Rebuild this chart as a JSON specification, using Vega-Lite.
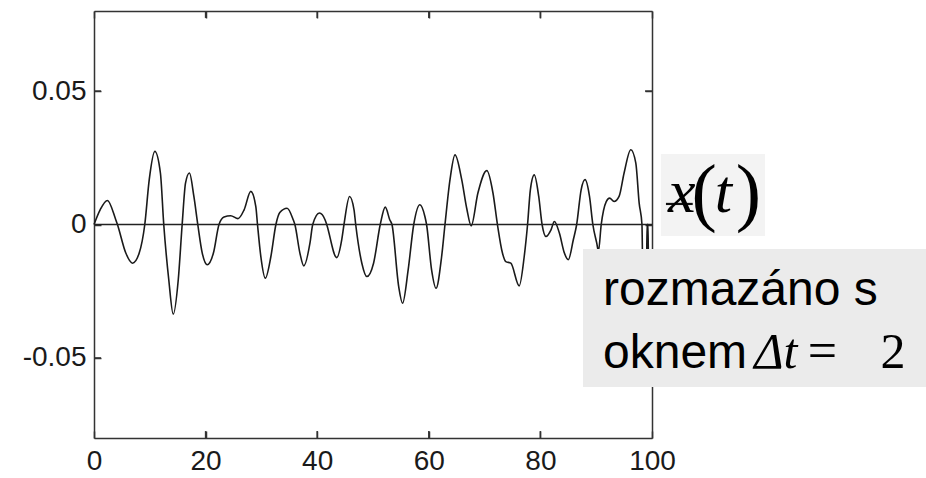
{
  "$schema": "https://vega.github.io/schema/vega-lite/v6.json",
  "width": 558,
  "height": 427,
  "autosize": {"type": "none"},
  "padding": {"left": 94, "top": 11, "right": 274, "bottom": 40},
  "background": "white",
  "config": {
    "view": {"stroke": null},
    "axis": {
      "grid": false,
      "title": null,
      "domainColor": "#333",
      "domainWidth": 1.5,
      "tickColor": "#333",
      "tickWidth": 1.5,
      "tickSize": -7,
      "labelFont": "Liberation Sans",
      "labelFontSize": 28,
      "labelColor": "#1a1a1a",
      "zindex": 0
    }
  },
  "datasets": {
    "signal": [
      {"t": 0, "v": 0}, {"t": 1.1, "v": 0.0055}, {"t": 2.4, "v": 0.009}, {"t": 3.9, "v": 0.0018}, {"t": 4.2, "v": 0},
      {"t": 5.7, "v": -0.0107}, {"t": 6.9, "v": -0.0145}, {"t": 8.1, "v": -0.0107}, {"t": 9.1, "v": 0},
      {"t": 9.9, "v": 0.0168}, {"t": 10.9, "v": 0.0274}, {"t": 11.9, "v": 0.0193}, {"t": 12.5, "v": 0},
      {"t": 13.4, "v": -0.0207}, {"t": 14.2, "v": -0.0336}, {"t": 15.1, "v": -0.0207}, {"t": 15.8, "v": 0},
      {"t": 16.4, "v": 0.0155}, {"t": 17.1, "v": 0.0193}, {"t": 17.9, "v": 0.0105}, {"t": 18.6, "v": 0},
      {"t": 19.4, "v": -0.0107}, {"t": 20.3, "v": -0.0151}, {"t": 21.4, "v": -0.0107}, {"t": 22.4, "v": 0},
      {"t": 23.3, "v": 0.0028}, {"t": 24.5, "v": 0.0033}, {"t": 25.8, "v": 0.0022}, {"t": 26.9, "v": 0.0055},
      {"t": 28.1, "v": 0.0124}, {"t": 29.0, "v": 0.0067}, {"t": 29.3, "v": 0}, {"t": 29.9, "v": -0.012},
      {"t": 30.7, "v": -0.0201}, {"t": 31.7, "v": -0.012}, {"t": 32.6, "v": 0}, {"t": 33.3, "v": 0.0045},
      {"t": 34.6, "v": 0.0061}, {"t": 35.7, "v": 0.0018}, {"t": 36.0, "v": 0}, {"t": 36.9, "v": -0.0107},
      {"t": 37.6, "v": -0.0155}, {"t": 38.7, "v": -0.007}, {"t": 39.2, "v": 0}, {"t": 40.4, "v": 0.0043},
      {"t": 41.4, "v": 0.0018}, {"t": 41.7, "v": 0}, {"t": 43.5, "v": -0.0124}, {"t": 44.4, "v": -0.0057},
      {"t": 44.8, "v": 0}, {"t": 45.8, "v": 0.0105}, {"t": 46.6, "v": 0.0055}, {"t": 46.9, "v": 0},
      {"t": 48.0, "v": -0.0145}, {"t": 48.9, "v": -0.0195}, {"t": 50.1, "v": -0.0145}, {"t": 51.3, "v": 0},
      {"t": 52.2, "v": 0.0065}, {"t": 53.0, "v": 0.0018}, {"t": 53.4, "v": 0}, {"t": 54.6, "v": -0.0232},
      {"t": 55.3, "v": -0.0295}, {"t": 56.3, "v": -0.017}, {"t": 57.3, "v": 0}, {"t": 58.4, "v": 0.0074},
      {"t": 59.3, "v": 0.003}, {"t": 59.6, "v": 0}, {"t": 60.5, "v": -0.017}, {"t": 61.3, "v": -0.0239},
      {"t": 62.3, "v": -0.012}, {"t": 62.9, "v": 0}, {"t": 63.8, "v": 0.0168}, {"t": 64.7, "v": 0.0261},
      {"t": 65.9, "v": 0.0168}, {"t": 66.8, "v": 0.006}, {"t": 67.6, "v": -0.0005}, {"t": 68.8, "v": 0.0118},
      {"t": 70.4, "v": 0.0202}, {"t": 71.5, "v": 0.0118}, {"t": 72.3, "v": 0}, {"t": 73.2, "v": -0.0107},
      {"t": 73.8, "v": -0.0139}, {"t": 74.7, "v": -0.0145}, {"t": 76.2, "v": -0.023}, {"t": 77.1, "v": -0.012},
      {"t": 77.7, "v": 0}, {"t": 78.2, "v": 0.013}, {"t": 78.9, "v": 0.0186}, {"t": 79.7, "v": 0.0105},
      {"t": 80.3, "v": 0}, {"t": 81.0, "v": -0.0045}, {"t": 81.9, "v": -0.002}, {"t": 82.5, "v": 0.0011},
      {"t": 83.4, "v": -0.0032}, {"t": 84.3, "v": -0.0107}, {"t": 85.0, "v": -0.0132}, {"t": 85.9, "v": -0.0057},
      {"t": 86.5, "v": 0}, {"t": 87.3, "v": 0.013}, {"t": 88.0, "v": 0.0168}, {"t": 88.8, "v": 0.0105},
      {"t": 89.4, "v": 0}, {"t": 90.1, "v": -0.007}, {"t": 90.4, "v": -0.01}, {"t": 90.9, "v": 0},
      {"t": 91.8, "v": 0.0086}, {"t": 92.4, "v": 0.0099}, {"t": 93.2, "v": 0.0086}, {"t": 94.1, "v": 0.0105},
      {"t": 95.0, "v": 0.0193}, {"t": 96.2, "v": 0.028}, {"t": 97.1, "v": 0.023}, {"t": 97.7, "v": 0.008},
      {"t": 98.2, "v": 0}, {"t": 98.4, "v": -0.025}, {"t": 99.0, "v": -0.025}, {"t": 99.1, "v": 0},
      {"t": 99.3, "v": 0}, {"t": 99.4, "v": -0.025}, {"t": 100, "v": -0.025}
    ],
    "ticks": [
      {"x1": 20, "x2": 20, "y1": 0.08, "y2": 0.0774}, {"x1": 40, "x2": 40, "y1": 0.08, "y2": 0.0774},
      {"x1": 60, "x2": 60, "y1": 0.08, "y2": 0.0774}, {"x1": 80, "x2": 80, "y1": 0.08, "y2": 0.0774},
      {"x1": 20, "x2": 20, "y1": -0.08, "y2": -0.0774}, {"x1": 40, "x2": 40, "y1": -0.08, "y2": -0.0774},
      {"x1": 60, "x2": 60, "y1": -0.08, "y2": -0.0774}, {"x1": 80, "x2": 80, "y1": -0.08, "y2": -0.0774},
      {"x1": 0, "x2": 1.25, "y1": 0.05, "y2": 0.05}, {"x1": 0, "x2": 1.25, "y1": -0.05, "y2": -0.05},
      {"x1": 98.75, "x2": 100, "y1": 0.05, "y2": 0.05}, {"x1": 98.75, "x2": 100, "y1": -0.05, "y2": -0.05}
    ],
    "boxes": [
      {"x1": 101.6, "x2": 120.25, "y1": 0.0264, "y2": -0.0043, "c": "a"},
      {"x1": 87.63, "x2": 149.1, "y1": -0.00918, "y2": -0.0609, "c": "b"}
    ],
    "sans": [
      {"x": 91.22, "y": -0.03016, "label": "rozmazáno s"},
      {"x": 91.22, "y": -0.05377, "label": "oknem"}
    ],
    "serifItalic": [
      {"x": 105.32, "y": 0.00468, "label": "x", "s": 62},
      {"x": 112.78, "y": 0.00468, "label": "t", "s": 62},
      {"x": 122.2, "y": -0.05377, "label": "Δt", "s": 50}
    ],
    "serifUpright": [
      {"x": 109.35, "y": 0.00281, "label": "(", "s": 76},
      {"x": 117.26, "y": 0.00281, "label": ")", "s": 76},
      {"x": 130.56, "y": -0.05377, "label": "=", "s": 52},
      {"x": 143.19, "y": -0.05377, "label": "2", "s": 50}
    ],
    "strike": [
      {"x1": 102.5, "x2": 107.3, "y": 0.0077}
    ]
  },
  "resolve": {"axis": {"x": "independent", "y": "independent"}},
  "layer": [
    {
      "data": {"name": "signal"},
      "mark": {"type": "line", "interpolate": "monotone", "color": "#1a1a1a", "strokeWidth": 1.6},
      "encoding": {
        "x": {"field": "t", "type": "quantitative", "scale": {"domain": [0, 100], "nice": false, "zero": false},
          "axis": {"orient": "bottom", "values": [0, 20, 40, 60, 80, 100], "labelPadding": 16, "labelFlush": false}},
        "y": {"field": "v", "type": "quantitative", "scale": {"domain": [-0.08, 0.08], "nice": false, "zero": false},
          "axis": {"orient": "left", "values": [-0.05, 0, 0.05], "labelPadding": 15,
            "labelExpr": "datum.value == 0 ? '0' : (datum.value < 0 ? '-' : '') + format(abs(datum.value), '.2f')"}}
      }
    },
    {
      "data": {"name": "signal"},
      "mark": {"type": "line", "strokeOpacity": 0},
      "encoding": {
        "x": {"field": "t", "type": "quantitative", "axis": {"orient": "top", "values": [0, 20, 40, 60, 80, 100], "labels": false}},
        "y": {"field": "v", "type": "quantitative", "axis": {"orient": "right", "values": [-0.05, 0, 0.05], "labels": false}}
      }
    },
    {
      "data": {"name": "ticks"},
      "mark": {"type": "rule", "color": "#333", "strokeWidth": 1.5},
      "encoding": {
        "x": {"field": "x1", "type": "quantitative", "axis": null},
        "x2": {"field": "x2"},
        "y": {"field": "y1", "type": "quantitative", "axis": null},
        "y2": {"field": "y2"}
      }
    },
    {
      "data": {"values": [{"z": 0}]},
      "mark": {"type": "rule", "color": "#222", "strokeWidth": 1.5},
      "encoding": {"y": {"field": "z", "type": "quantitative", "axis": null}}
    },
    {
      "data": {"name": "boxes"},
      "mark": {"type": "rect"},
      "encoding": {
        "x": {"field": "x1", "type": "quantitative", "axis": null},
        "x2": {"field": "x2"},
        "y": {"field": "y1", "type": "quantitative", "axis": null},
        "y2": {"field": "y2"},
        "color": {"field": "c", "type": "nominal", "scale": {"domain": ["a", "b"], "range": ["#f3f3f3", "#ebebeb"]}, "legend": null}
      }
    },
    {
      "data": {"name": "strike"},
      "mark": {"type": "rule", "color": "#111", "strokeWidth": 2.2},
      "encoding": {
        "x": {"field": "x1", "type": "quantitative", "axis": null},
        "x2": {"field": "x2"},
        "y": {"field": "y", "type": "quantitative", "axis": null}
      }
    },
    {
      "data": {"name": "sans"},
      "mark": {"type": "text", "font": "Liberation Sans", "fontSize": 48, "align": "left", "baseline": "alphabetic", "color": "#000"},
      "encoding": {
        "x": {"field": "x", "type": "quantitative", "axis": null},
        "y": {"field": "y", "type": "quantitative", "axis": null},
        "text": {"field": "label"}
      }
    },
    {
      "data": {"name": "serifItalic"},
      "mark": {"type": "text", "font": "Liberation Serif", "fontStyle": "italic", "align": "center", "baseline": "alphabetic", "color": "#000"},
      "encoding": {
        "x": {"field": "x", "type": "quantitative", "axis": null},
        "y": {"field": "y", "type": "quantitative", "axis": null},
        "size": {"field": "s", "type": "quantitative", "scale": null},
        "text": {"field": "label"}
      }
    },
    {
      "data": {"name": "serifUpright"},
      "mark": {"type": "text", "font": "Liberation Serif", "align": "center", "baseline": "alphabetic", "color": "#000"},
      "encoding": {
        "x": {"field": "x", "type": "quantitative", "axis": null},
        "y": {"field": "y", "type": "quantitative", "axis": null},
        "size": {"field": "s", "type": "quantitative", "scale": null},
        "text": {"field": "label"}
      }
    }
  ]
}
